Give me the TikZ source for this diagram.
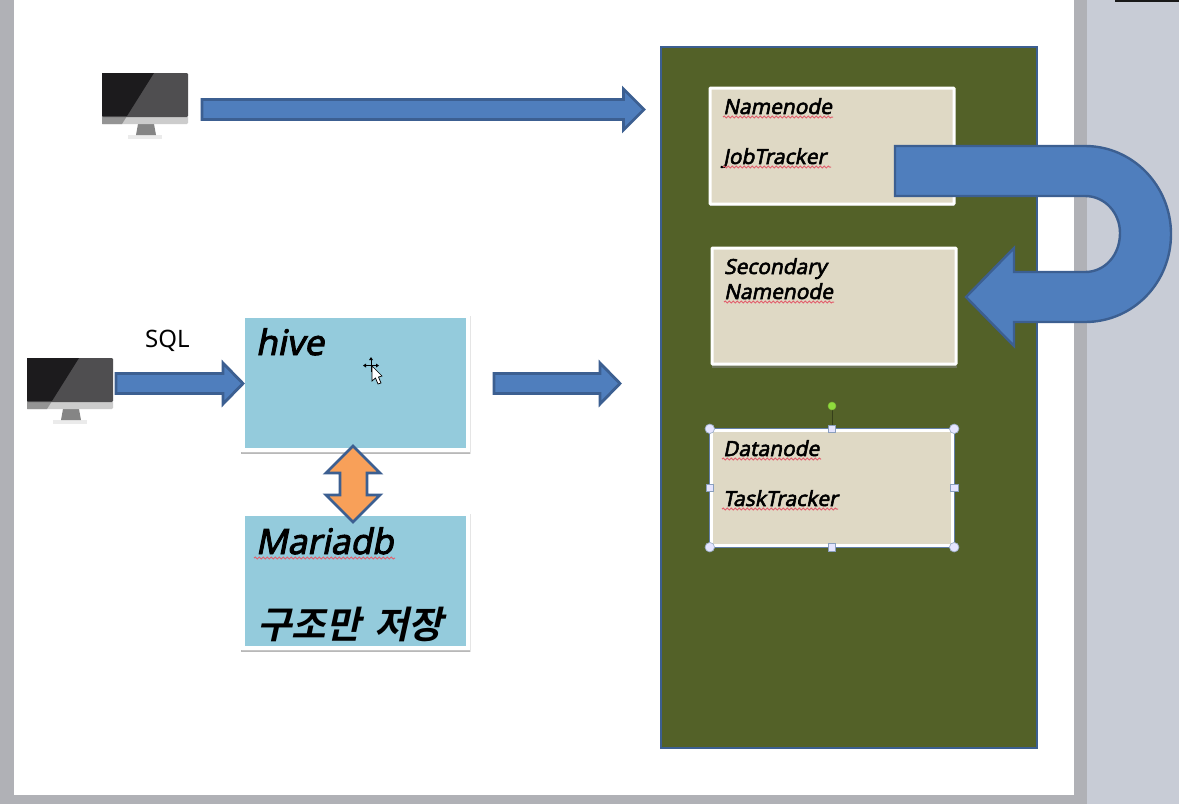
\documentclass[tikz,border=0pt]{standalone}
\usepackage{fontspec}
\setmainfont{Noto Sans}
\newfontfamily\cjk[UprightFont=* Bold,FakeSlant=0.22,WordSpace=1.6]{Noto Sans CJK KR}
\newfontfamily\labfont[FakeSlant=0.2,FakeBold=2.6]{Noto Sans}
\usetikzlibrary{decorations.pathmorphing}
\definecolor{pagegray}{HTML}{C8CCD6}
\definecolor{edgegray}{HTML}{B0B1B6}
\definecolor{olive}{HTML}{536128}
\definecolor{edgeblue}{HTML}{3C5F91}
\definecolor{fillblue}{HTML}{4F7EBD}
\definecolor{tan}{HTML}{DFD9C5}
\definecolor{sky}{HTML}{94CBDC}
\definecolor{orangefill}{HTML}{F79646}
\definecolor{screenlight}{HTML}{4F4E50}
\definecolor{screendark}{HTML}{1C1B1D}
\definecolor{squigred}{HTML}{E2606E}
\definecolor{lime}{HTML}{8FDC3C}
\tikzset{
  x=1pt,y=-1pt,
  blockarrow/.style={draw=edgeblue,fill=fillblue,line width=2.8pt,line join=miter},
  skybox/.style={fill=sky,draw=white,line width=4pt},
  shadowbox/.style={fill=black!45,opacity=0.5},
  softedge/.style={draw=black!10,line width=0.8pt},
  tanbox/.style={draw=white,fill=tan,line width=3pt,rounded corners=0.8pt,minimum width=244pt,minimum height=116pt,inner sep=0pt},
  lab/.style={anchor=base west,inner sep=0pt,font=\labfont\fontsize{20.8}{21}\selectfont,text=black},
  biglab/.style={anchor=base west,inner sep=0pt,font=\labfont\fontsize{35}{35}\selectfont,text=black},
  squig/.style={draw=squigred,line width=1pt,decorate,decoration={snake,segment length=4pt,amplitude=0.9pt}},
  roundhandle/.style={circle,draw=edgeblue!50,fill=white!90!blue,line width=0.7pt,minimum size=9.5pt,inner sep=0pt},
  squarehandle/.style={rectangle,draw=edgeblue!60,fill=white!90!blue,line width=0.7pt,minimum size=7.5pt,inner sep=0pt},
}
\newcommand{\monitor}[2]{%
  \begin{scope}[shift={(#1,#2)}]
    \fill[black!8] (26,62) rectangle (60,66);
    \fill[black!48] (36,51) -- (52,51) -- (54,62) -- (34,62) -- cycle;
    \fill[black!20,rounded corners=1.2pt] (0,43) rectangle (86,51);
    \fill[black!42] (0,43) -- (25,43) -- (20,51) -- (0,51) -- cycle;
    \fill[screenlight,rounded corners=1.2pt] (0,0) rectangle (86,44);
    \fill[screendark] (0,0) -- (52,0) -- (25,43) -- (0,43) -- cycle;
  \end{scope}}
\begin{document}
\begin{tikzpicture}
\useasboundingbox (0,0) rectangle (1179,804);
% window and page
\fill[pagegray] (0,0) rectangle (1179,804);
\fill[edgegray] (0,0) rectangle (1087,804);
\fill[white] (14,0) rectangle (1074,795);
\fill[black!90] (1115,0) rectangle (1179,2);
% monitors
\monitor{102}{73}
\monitor{27}{358}
% top arrow
\draw[blockarrow] (202,99.5) -- (623.5,99.5) -- (623.5,89) -- (644,109.5) -- (623.5,130) -- (623.5,119.5) -- (202,119.5) -- cycle;
% SQL
\node[anchor=base west,inner sep=0pt,font=\fontsize{24}{24}\selectfont] (sql) at (145,347) {SQL};
% olive panel
\draw[draw=edgeblue,fill=olive,line width=2.4pt] (661,47) rectangle (1037,748);
% sky boxes
\draw[softedge] (241,316) rectangle (470,453);
\draw[softedge] (241,514) rectangle (470,651);
\fill[shadowbox] (241,449) rectangle (470,454);
\fill[shadowbox] (241,647) rectangle (470,652);
\draw[skybox] (243,316) rectangle (468,450);
\draw[skybox] (243,514) rectangle (468,648);
\node[biglab] (hive) at (255.5,355) {hive};
\node[biglab] (maria) at (255.5,554) {Mariadb};
\draw[squig] (254,558) -- (395,558);
\node[anchor=base west,inner sep=0pt,font=\cjk\fontsize{37.5}{37}\selectfont] (korean) at (257,638) {구조만 저장};
% tan boxes
\fill[shadowbox] (710,92) rectangle (955,206);
\node[tanbox] (nn) at (832,146) {};
\fill[shadowbox] (712,360) rectangle (957,368);
\node[tanbox] (snn) at (834,306) {};
\node[draw=white,fill=tan,line width=3.4pt,minimum width=241pt,minimum height=115pt,inner sep=0pt] (dn) at (832,488) {};
\draw[edgeblue!80,line width=0.8pt] (dn.north west) rectangle (dn.south east);
\node[lab] (t1) at (723,114) {Namenode};
\draw[squig] (723,117) -- (833,117);
\node[lab] (t2) at (723,164) {JobTracker};
\draw[squig] (723,167) -- (831,167);
\node[lab] (t3) at (724,274) {Secondary};
\node[lab] (t4) at (724,299) {Namenode};
\draw[squig] (724,302) -- (834,302);
\node[lab] (t5) at (723,456) {Datanode};
\draw[squig] (722,459) -- (821,459);
\node[lab] (t6) at (723,506) {TaskTracker};
\draw[squig] (722,509) -- (838,509);
% selection handles
\coordinate (rot) at (832,406);
\draw[black!35!olive,line width=1pt] (rot) -- (dn.north);
\node[circle,fill=lime,draw=lime!70!olive,line width=0.5pt,minimum size=8pt,inner sep=0pt] (rh) at (rot) {};
\foreach \a in {north west,north east,south west,south east}
  \node[roundhandle] at (dn.\a) {};
\foreach \a in {north,south,west,east}
  \node[squarehandle] at (dn.\a) {};
% U arrow
\draw[blockarrow,line width=2.4pt] (895,146) -- (1085,146)
   .. controls (1133,146) and (1171,186) .. (1171,234)
   .. controls (1171,283) and (1133,322) .. (1085,322)
   -- (1014,322) -- (1014,346) -- (966,297) -- (1014,248) -- (1014,272) -- (1085,272)
   .. controls (1105,272) and (1120,255) .. (1120,233)
   .. controls (1120,213) and (1105,196) .. (1085,196)
   -- (895,196) -- cycle;
% hive arrows
\draw[blockarrow] (116,373.5) -- (223,373.5) -- (223,363) -- (243,383.5) -- (223,404) -- (223,393.5) -- (116,393.5) -- cycle;
\draw[blockarrow] (494,373.5) -- (600,373.5) -- (600,363) -- (620,383.5) -- (600,404) -- (600,393.5) -- (494,393.5) -- cycle;
% double arrow
\draw[draw=edgeblue,fill=orangefill!90!white,line width=2.8pt] (353,446) -- (380,473) -- (367,473) -- (367,495) -- (380,495) -- (353,522) -- (326,495) -- (340,495) -- (340,473) -- (326,473) -- cycle;
% cursor
\draw[black,fill=white,line width=0.7pt] (372,366) -- (372,381) -- (375.5,378) -- (378,384) -- (381,383) -- (378.5,377) -- (382,376) -- cycle;
\draw[black,line width=0.9pt] (364,365.5) -- (378,365.5) (371,358.5) -- (371,372);
\fill[black] (371,357) -- (369,360) -- (373,360) -- cycle (363,365.5) -- (366,363.5) -- (366,367.5) -- cycle (379,365.5) -- (376,363.5) -- (376,367.5) -- cycle;
\end{tikzpicture}
\end{document}
